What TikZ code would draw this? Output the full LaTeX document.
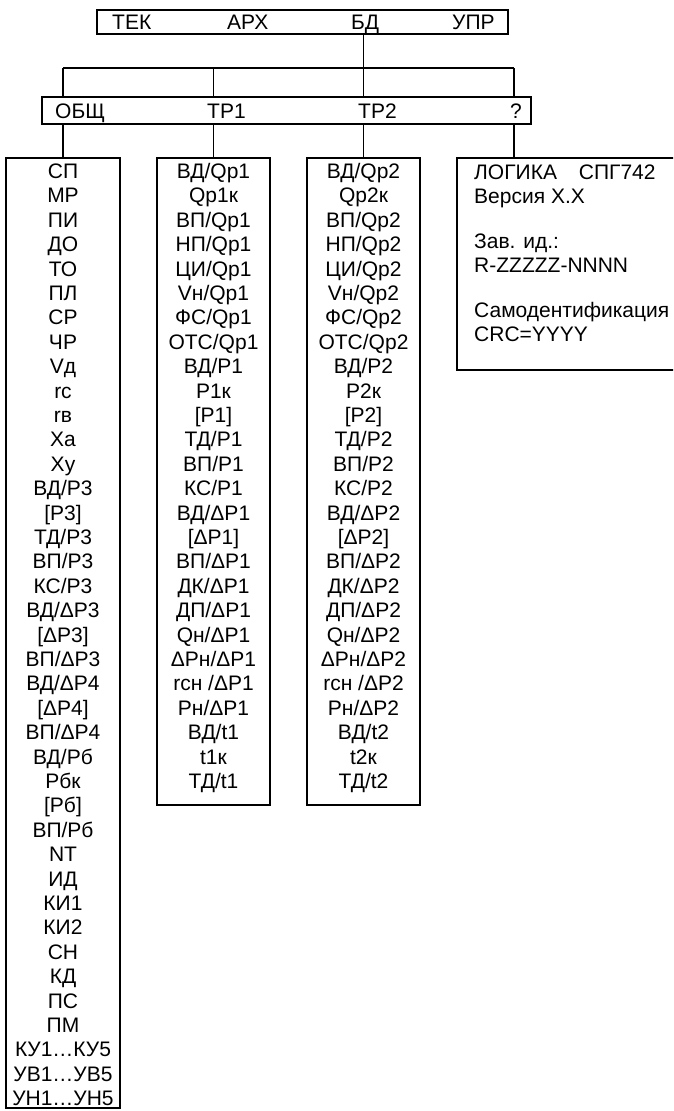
\documentclass[tikz,border=0pt]{standalone}
\usepackage{fontspec}
\setmainfont{Liberation Sans}
\begin{document}
\begin{tikzpicture}[x=1pt,y=-1pt,
  box/.style={draw, line width=1.2pt, inner sep=0pt},
  lbl/.style={font=\fontsize{21}{24}\selectfont, inner sep=0pt, anchor=base},
  lblw/.style={lbl, anchor=base west},
  conn/.style={line width=1.2pt}]
\useasboundingbox (0,0) rectangle (673,1111);
\clip (0,0) rectangle (673,1111);
\fill[white] (0,0) rectangle (673,1111);

% top bar
\node[box, minimum width=411pt, minimum height=24pt] (topbar) at (302.5,22) {};
\node[lblw] (tTEK) at (112,29.5) {ТЕК};
\node[lblw] (tARH) at (227,29.5) {АРХ};
\node[lblw] (tBD)  at (351,29.5) {БД};
\node[lblw] (tUPR) at (452,29.5) {УПР};

% second bar
\node[box, minimum width=489pt, minimum height=27pt] (secbar) at (286.5,110.5) {};
\node[lblw] (sOBSH) at (55,118) {ОБЩ};
\node[lblw] (sTR1) at (207,118) {ТР1};
\node[lblw] (sTR2) at (358,118) {ТР2};
\node[lblw] (sQ) at (510,118) {?};

% columns
\node[box, minimum width=114pt, minimum height=950pt] (col1) at (63,633) {};
\node[box, minimum width=113pt, minimum height=647pt] (col2) at (213.5,481.5) {};
\node[box, minimum width=113pt, minimum height=647pt] (col3) at (363.5,481.5) {};
\node[box, minimum width=243pt, minimum height=212pt] (col4) at (578.5,264) {};

% connectors
\coordinate (h1) at (63,68);
\coordinate (h2) at (213.5,68);
\coordinate (h3) at (363.5,68);
\coordinate (h4) at (514,68);
\draw[conn] (topbar.south -| h3) -- (h3);
\draw[conn] (h1) -- (h4);
\foreach \k in {1,2,3,4} \draw[conn] (h\k) -- (h\k |- secbar.north);
\draw[conn] (secbar.south -| col1.north) -- (col1.north);
\draw[conn] (secbar.south -| col2.north) -- (col2.north);
\draw[conn] (secbar.south -| col3.north) -- (col3.north);
\draw[conn] (secbar.south -| h4) -- (h4 |- col4.north);

% column 1 items
\foreach \t [count=\i] in {{СП},{МР},{ПИ},{ДО},{ТО},{ПЛ},{СР},{ЧР},{Vд},{rc},{rв},{Xa},{Xy},{ВД/Р3},{[Р3]},{ТД/Р3},{ВП/Р3},{КС/Р3},{ВД/ΔР3},{[ΔР3]},{ВП/ΔР3},{ВД/ΔР4},{[ΔР4]},{ВП/ΔР4},{ВД/Рб},{Рбк},{[Рб]},{ВП/Рб},{NT},{ИД},{КИ1},{КИ2},{СН},{КД},{ПС},{ПМ},{КУ1…КУ5},{УВ1…УВ5},{УН1…УН5}}
  \node[lbl] (a\i) at (63,{178.5+24.4*(\i-1)}) {\t};

% column 2 items
\foreach \t [count=\i] in {{ВД/Qр1},{Qр1к},{ВП/Qр1},{НП/Qр1},{ЦИ/Qр1},{Vн/Qр1},{ФС/Qр1},{ОТС/Qр1},{ВД/Р1},{Р1к},{[Р1]},{ТД/Р1},{ВП/Р1},{КС/Р1},{ВД/ΔР1},{[ΔР1]},{ВП/ΔР1},{ДК/ΔР1},{ДП/ΔР1},{Qн/ΔР1},{ΔРн/ΔР1},{rсн /ΔР1},{Рн/ΔР1},{ВД/t1},{t1к},{ТД/t1}}
  \node[lbl] (b\i) at (213.5,{178.5+24.4*(\i-1)}) {\t};

% column 3 items
\foreach \t [count=\i] in {{ВД/Qр2},{Qр2к},{ВП/Qр2},{НП/Qр2},{ЦИ/Qр2},{Vн/Qр2},{ФС/Qр2},{ОТС/Qр2},{ВД/Р2},{Р2к},{[Р2]},{ТД/Р2},{ВП/Р2},{КС/Р2},{ВД/ΔР2},{[ΔР2]},{ВП/ΔР2},{ДК/ΔР2},{ДП/ΔР2},{Qн/ΔР2},{ΔРн/ΔР2},{rсн /ΔР2},{Рн/ΔР2},{ВД/t2},{t2к},{ТД/t2}}
  \node[lbl] (c\i) at (363.5,{178.5+24.4*(\i-1)}) {\t};

% column 4 text
\node[lblw] (d1) at (474,179.5) {ЛОГИКА\hspace{16pt} СПГ742};
\node[lblw] (d2) at (474,203.5) {Версия Х.Х};
\node[lblw] (d3) at (474,248.5) {Зав. ид.:};
\node[lblw] (d4) at (474,272.5) {R-ZZZZZ-NNNN};
\node[lblw] (d5) at (474,317.5) {Самодентификация};
\node[lblw] (d6) at (474,341.5) {CRC=YYYY};
\end{tikzpicture}
\end{document}
